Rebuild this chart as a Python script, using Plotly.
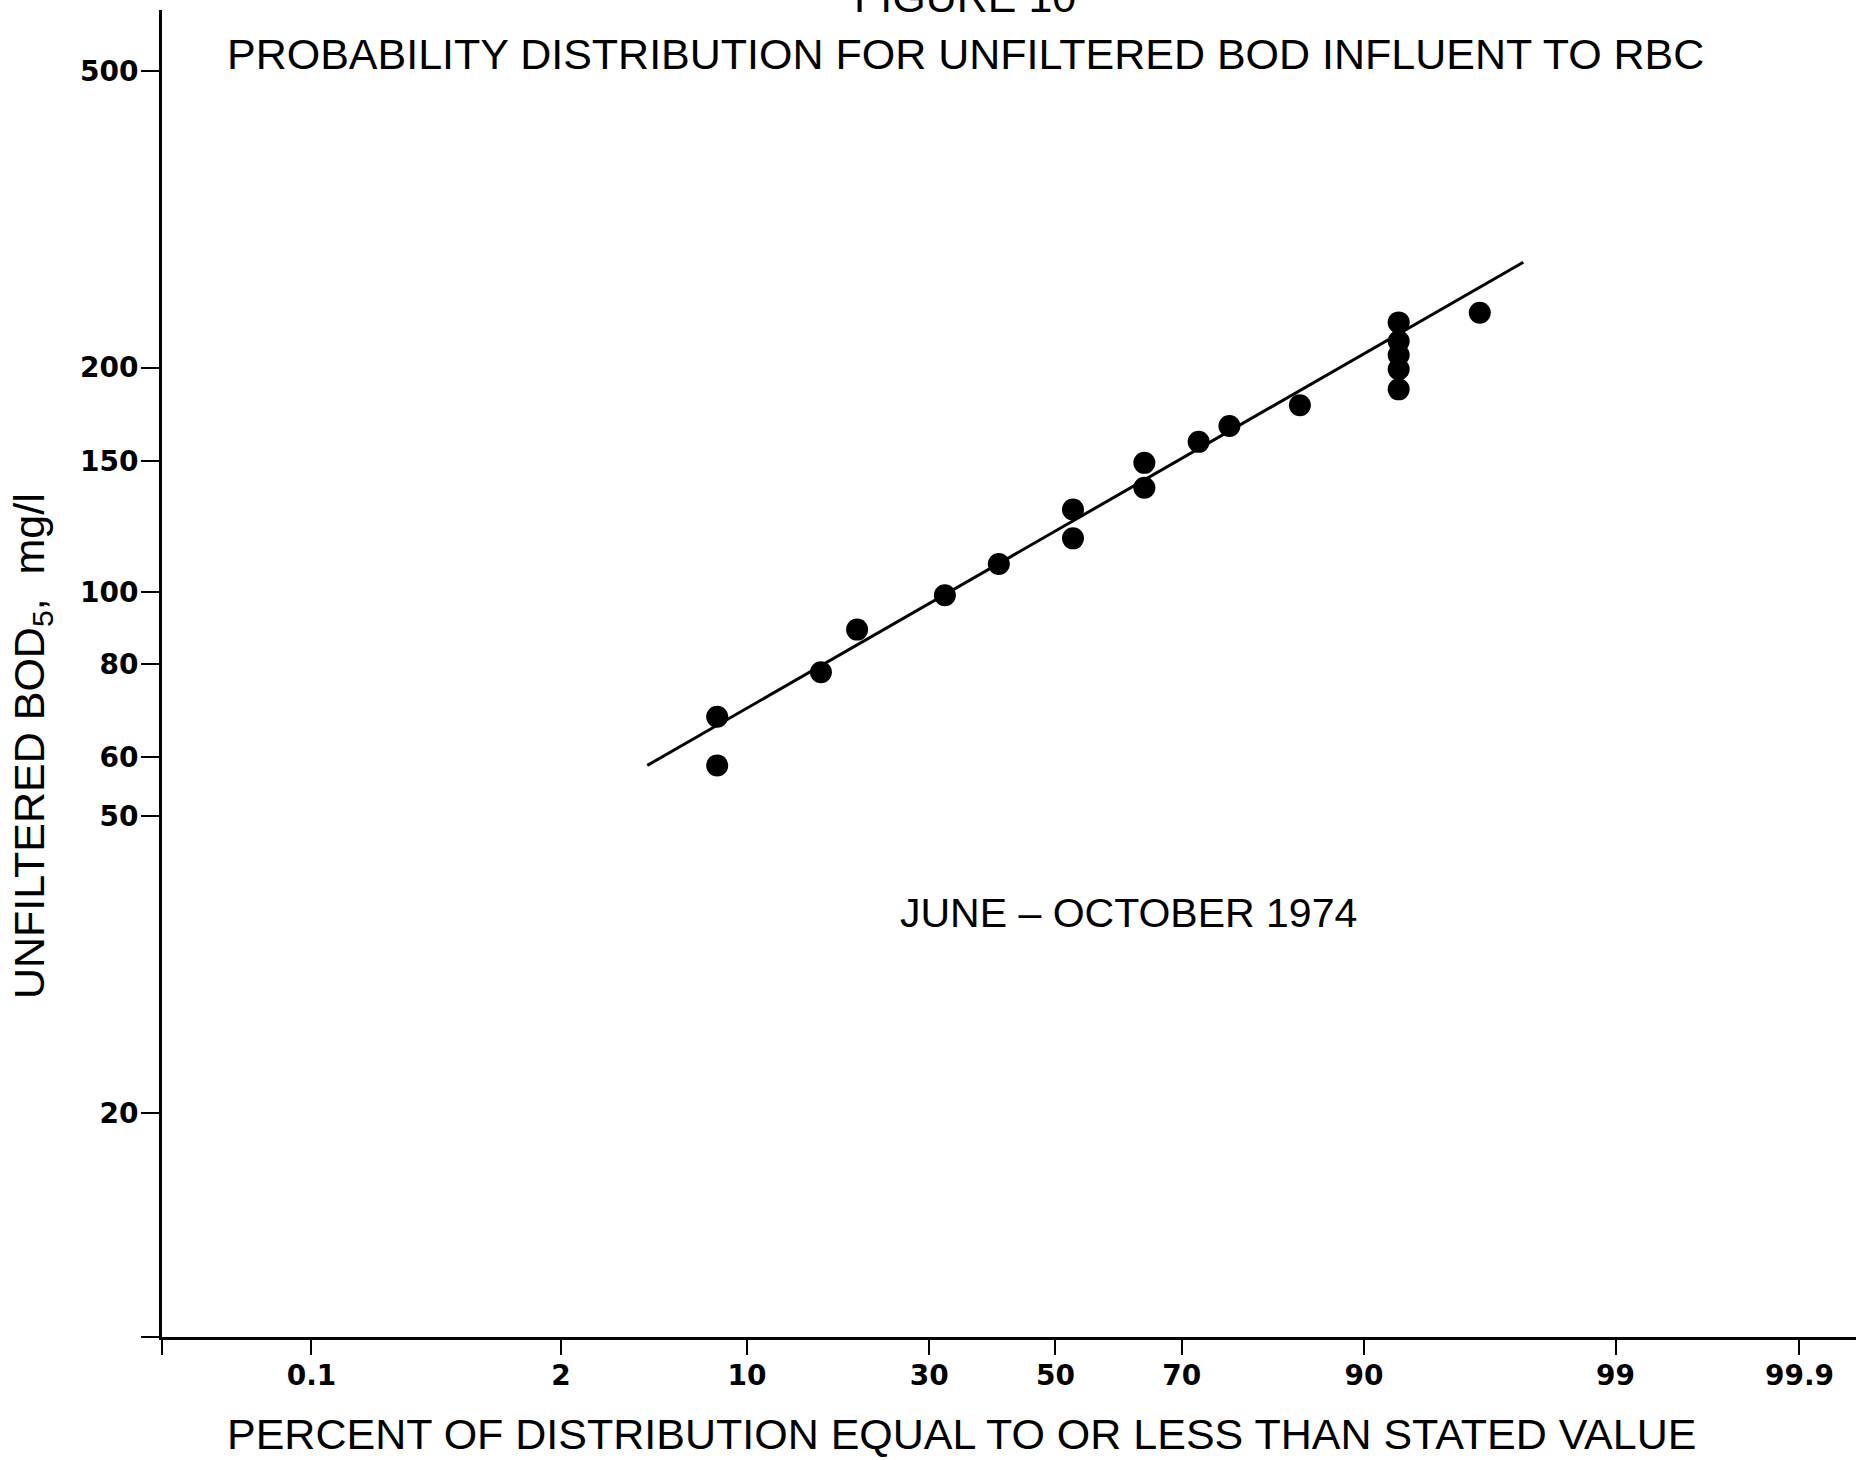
import statistics
import plotly.graph_objects as go

# ---- data ----
PCT = [8.0, 8.0, 16.5, 20.5, 32.3, 40.7, 52.9, 52.9, 64.4, 64.4, 72.4, 76.5,
       84.5, 92.3, 92.3, 92.3, 92.3, 92.3, 96.1]
BOD = [68, 58.5, 78, 89, 99, 109, 129, 118, 149, 138, 159, 167,
       178, 230, 217, 208, 199, 187, 237]

LINE_PCT = [4.5, 97.4]
LINE_BOD = [58.5, 277]

X_TICK_PCT = [0.1, 2, 10, 30, 50, 70, 90, 99, 99.9]
X_TICK_LABELS = ["0.1", "2", "10", "30", "50", "70", "90", "99", "99.9"]
Y_TICK_VALS = [10, 20, 50, 60, 80, 100, 150, 200, 500]
Y_TICK_LABELS = ["", "20", "50", "60", "80", "100", "150", "200", "500"]

nd = statistics.NormalDist()


def z(p):
    return nd.inv_cdf(p / 100.0)


W, H = 1856, 1460
L, R, T, B = 162, 0, 10, 123
PW, PH = W - L - R, H - T - B

X_LEFT, X_RIGHT = -3.711, 3.325


def px(x):
    return (x - L) / PW


def py(y):
    return 1 - (y - T) / PH


fig = go.Figure()
fig.add_trace(go.Scatter(
    x=[z(p) for p in LINE_PCT], y=LINE_BOD, mode="lines",
    line=dict(color="black", width=3), hoverinfo="skip", showlegend=False))
fig.add_trace(go.Scatter(
    x=[z(p) for p in PCT], y=BOD, mode="markers",
    marker=dict(color="black", size=22), showlegend=False))

tick_font = dict(family="DejaVu Sans", size=28, color="black", weight="bold")
text_font = dict(family="Liberation Sans, Arial, sans-serif", size=43, color="black")

fig.update_xaxes(
    range=[X_LEFT, X_RIGHT],
    tickvals=[X_LEFT] + [z(p) for p in X_TICK_PCT],
    ticktext=[""] + X_TICK_LABELS,
    ticks="outside", ticklen=15, tickwidth=2, tickcolor="black",
    showline=True, linecolor="black", linewidth=3,
    showgrid=False, zeroline=False, tickfont=tick_font,
    ticklabelstandoff=-4,
)
fig.update_yaxes(
    type="log", range=[1.0, 2.781],
    tickvals=Y_TICK_VALS, ticktext=Y_TICK_LABELS,
    ticks="outside", ticklen=18, tickwidth=2, tickcolor="black",
    showline=True, linecolor="black", linewidth=3,
    showgrid=False, zeroline=False, tickfont=tick_font,
    ticklabelstandoff=-3,
)

annotations = [
    dict(text="FIGURE 10", x=px(965), y=py(-3), font=text_font),
    dict(text="PROBABILITY DISTRIBUTION FOR UNFILTERED BOD INFLUENT TO RBC",
         x=px(965), y=py(54), font=text_font),
    dict(text="PERCENT OF DISTRIBUTION EQUAL TO OR LESS THAN STATED VALUE",
         x=px(961), y=py(1434), font=text_font),
    dict(text="UNFILTERED BOD<sub>5</sub>,  mg/l", x=px(32), y=py(746),
         textangle=-90, font=text_font),
    dict(text="JUNE – OCTOBER 1974", x=px(1128), y=py(913),
         font=dict(family="Liberation Sans, Arial, sans-serif", size=41, color="black")),
]
for a in annotations:
    a.update(xref="paper", yref="paper", showarrow=False,
             xanchor="center", yanchor="middle", borderpad=0)

fig.update_layout(
    width=W, height=H,
    margin=dict(l=L, r=R, t=T, b=B),
    paper_bgcolor="white", plot_bgcolor="white",
    annotations=annotations,
    showlegend=False,
)

fig.write_html("out.html")
